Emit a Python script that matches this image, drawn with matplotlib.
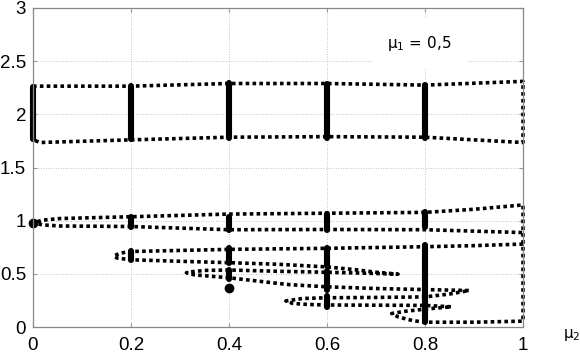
import matplotlib
matplotlib.use("Agg")
import matplotlib.pyplot as plt

# ---- data ----
xticks = [0, 0.2, 0.4, 0.6, 0.8, 1.0]
xtick_labels = ["0", "0.2", "0.4", "0.6", "0.8", "1"]
yticks = [0, 0.5, 1.0, 1.5, 2.0, 2.5, 3.0]
ytick_labels = ["0", "0.5", "1", "1.5", "2", "2.5", "3"]

# upper closed loop (top edge, right side, bottom edge)
upper_x = [0.0, 0.2, 0.4, 0.6, 0.8, 1.0, 1.0, 0.8, 0.6, 0.4, 0.2, 0.05, 0.015, 0.0]
upper_y = [2.265, 2.265, 2.29, 2.29, 2.275, 2.31, 1.735, 1.785, 1.79, 1.785, 1.76, 1.74, 1.735, 1.76]

# lower snake-like branch (one continuous path)
snake_x = [1.0, 0.9, 0.8, 0.6, 0.4, 0.2, 0.178, 0.165,
           0.172, 0.2, 0.3, 0.4, 0.5, 0.6, 0.66, 0.7, 0.745,
           0.7, 0.6, 0.5, 0.4, 0.35, 0.325, 0.313,
           0.33, 0.4, 0.5, 0.524, 0.6, 0.7, 0.8, 0.89,
           0.85, 0.8, 0.7, 0.6, 0.55, 0.516,
           0.53, 0.56, 0.6, 0.7, 0.8, 0.854,
           0.8, 0.76, 0.732,
           0.745, 0.775, 0.8, 0.9, 1.0,
           1.0,
           0.9, 0.8, 0.6, 0.4, 0.2, 0.055, 0.02, 0.0,
           0.02, 0.055, 0.2, 0.4, 0.6, 0.8, 1.0]
snake_y = [0.78, 0.765, 0.755, 0.74, 0.73, 0.71, 0.695, 0.668,
           0.648, 0.632, 0.618, 0.605, 0.59, 0.565, 0.538, 0.515, 0.497,
           0.503, 0.515, 0.524, 0.536, 0.532, 0.52, 0.51,
           0.49, 0.463, 0.41, 0.398, 0.378, 0.362, 0.352, 0.343,
           0.31, 0.283, 0.278, 0.275, 0.268, 0.245,
           0.222, 0.212, 0.207, 0.205, 0.203, 0.19,
           0.168, 0.148, 0.127,
           0.095, 0.06, 0.045, 0.045, 0.055,
           1.148,
           1.107, 1.078, 1.07, 1.062, 1.037, 1.02, 1.005, 0.98,
           0.96, 0.95, 0.945, 0.915, 0.917, 0.915, 0.888]

# dense point clusters (vertical bars) at sampled mu2 values
bar_x  = [0.0, 0.2, 0.2, 0.2, 0.4, 0.4, 0.4, 0.4, 0.6, 0.6, 0.6, 0.6, 0.6, 0.8, 0.8, 0.8]
bar_lo = [1.765, 1.77, 0.94, 0.63, 1.78, 0.915, 0.60, 0.45, 1.78, 0.915, 0.57, 0.35, 0.19, 1.78, 0.945, 0.045]
bar_hi = [2.26, 2.265, 1.035, 0.712, 2.29, 1.035, 0.74, 0.54, 2.285, 1.06, 0.74, 0.53, 0.295, 2.28, 1.08, 0.77]

dot_x = [0.0, 0.4]
dot_y = [0.98, 0.365]

label_text = "\u03bc$_1$ = 0,5"
xlabel_text = "\u03bc$_2$"

# ---- drawing ----
plt.rcParams["mathtext.default"] = "regular"
fig = plt.figure(figsize=(5.8, 3.54), dpi=100)
ax = fig.add_axes([33/580, 27/354, 490/580, 319/354])

dot_style = dict(color="black", linewidth=2.6, linestyle=(0, (1, 0.9)),
                 dash_capstyle="butt", solid_capstyle="butt", clip_on=False)
ax.plot(upper_x, upper_y, **dot_style)
ax.plot(snake_x, snake_y, **dot_style)

ax.vlines(bar_x, bar_lo, bar_hi, colors="black", linewidth=4.4,
          capstyle="round", clip_on=False)
ax.plot(dot_x, dot_y, "o", color="black", markersize=6, clip_on=False)

ax.set_xlim(0, 1)
ax.set_ylim(0, 3)
ax.set_xticks(xticks)
ax.set_xticklabels(xtick_labels)
ax.set_yticks(yticks)
ax.set_yticklabels(ytick_labels)
for lab in ax.get_xticklabels() + ax.get_yticklabels():
    lab.set_fontfamily("Liberation Sans")
    lab.set_fontsize(13.5)
ax.tick_params(axis="both", direction="in", length=3, color="#999999", width=0.8)
ax.tick_params(axis="x", pad=7)
ax.tick_params(axis="y", pad=5)
ax.tick_params(top=True, right=True)

ax.grid(True, color="#b0b0b0", linestyle=(0, (1, 2)), linewidth=0.6)
ax.set_axisbelow(True)
for s in ax.spines.values():
    s.set_color("#888888")
    s.set_linewidth(0.9)

ax.text(0.788, 2.665, label_text, fontsize=11, family="DejaVu Sans",
        ha="center", va="center",
        bbox=dict(facecolor="white", edgecolor="none", pad=11), zorder=5)
ax.text(1.082, -0.075, xlabel_text, fontsize=11, family="DejaVu Sans",
        ha="left", va="center", clip_on=False)

fig.savefig("out.png", dpi=100)
